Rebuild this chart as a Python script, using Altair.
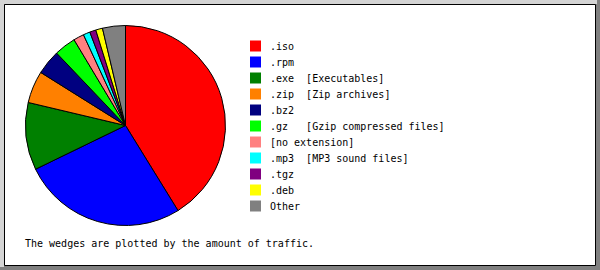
import altair as alt
import pandas as pd

# Traffic share per file type (percent of total traffic)
labels = [
    ".iso", ".rpm", ".exe\u00a0\u00a0[Executables]", ".zip\u00a0\u00a0[Zip archives]",
    ".bz2", ".gz\u00a0\u00a0\u00a0[Gzip compressed files]", "[no extension]",
    ".mp3\u00a0\u00a0[MP3 sound files]", ".tgz", ".deb", "Other",
]
shares = [41.2, 26.6, 10.9, 5.2, 4.0, 3.5, 1.7, 1.1, 1.0, 1.1, 3.7]
colors = ["#ff0000", "#0000ff", "#008000", "#ff8000", "#000080", "#00ff00",
          "#ff8080", "#00ffff", "#800080", "#ffff00", "#808080"]
footnote = "The wedges are plotted by the amount of traffic."

df = pd.DataFrame({
    "label": labels,
    "share": shares,
    "color": colors,
    "idx": list(range(len(labels))),
})

FONT = "DejaVu Sans Mono"
one = pd.DataFrame({"a": [0]})

# Beveled frame around the chart
frame_dark = alt.Chart(one).mark_rect(color="#808080").encode(
    x=alt.value(0), x2=alt.value(600), y=alt.value(0), y2=alt.value(270))
frame_top = alt.Chart(one).mark_rect(color="#d4d4d4").encode(
    x=alt.value(0), x2=alt.value(597), y=alt.value(0), y2=alt.value(4))
frame_left = alt.Chart(one).mark_rect(color="#d4d4d4").encode(
    x=alt.value(0), x2=alt.value(4), y=alt.value(0), y2=alt.value(267))
panel = alt.Chart(one).mark_rect(color="white", stroke="black", strokeWidth=1).encode(
    x=alt.value(4.5), x2=alt.value(595.5), y=alt.value(4.5), y2=alt.value(265.5))

color_scale = alt.Scale(domain=labels, range=colors)

pie = alt.Chart(df).mark_arc(
    outerRadius=100, stroke="black", strokeWidth=1
).encode(
    theta=alt.Theta("share:Q", stack=True),
    order=alt.Order("idx:Q"),
    color=alt.Color("label:N", scale=color_scale, legend=None),
    x=alt.value(125.5),
    y=alt.value(125.5),
)

row_y = alt.Y("idx:Q", scale=alt.Scale(domain=[0, 10], range=[46, 206]), axis=None)

swatches = alt.Chart(df).mark_rect(width=11, height=11).encode(
    x=alt.value(255.5),
    y=row_y,
    color=alt.Color("label:N", scale=color_scale, legend=None),
)

legend_text = alt.Chart(df).mark_text(
    align="left", baseline="middle", font=FONT, fontSize=10, color="black", dy=1
).encode(
    x=alt.value(270),
    y=row_y,
    text="label:N",
)

note = alt.Chart(pd.DataFrame({"t": [footnote]})).mark_text(
    align="left", baseline="middle", font=FONT, fontSize=10, color="black"
).encode(
    x=alt.value(25),
    y=alt.value(244),
    text="t:N",
)

chart = alt.layer(
    frame_dark, frame_top, frame_left, panel, pie, swatches, legend_text, note
).resolve_scale(y="independent").properties(
    width=600, height=270, padding=0, autosize="none"
).configure_view(stroke=None)

chart.save("out.html", embed_options={"renderer": "svg", "actions": False})
